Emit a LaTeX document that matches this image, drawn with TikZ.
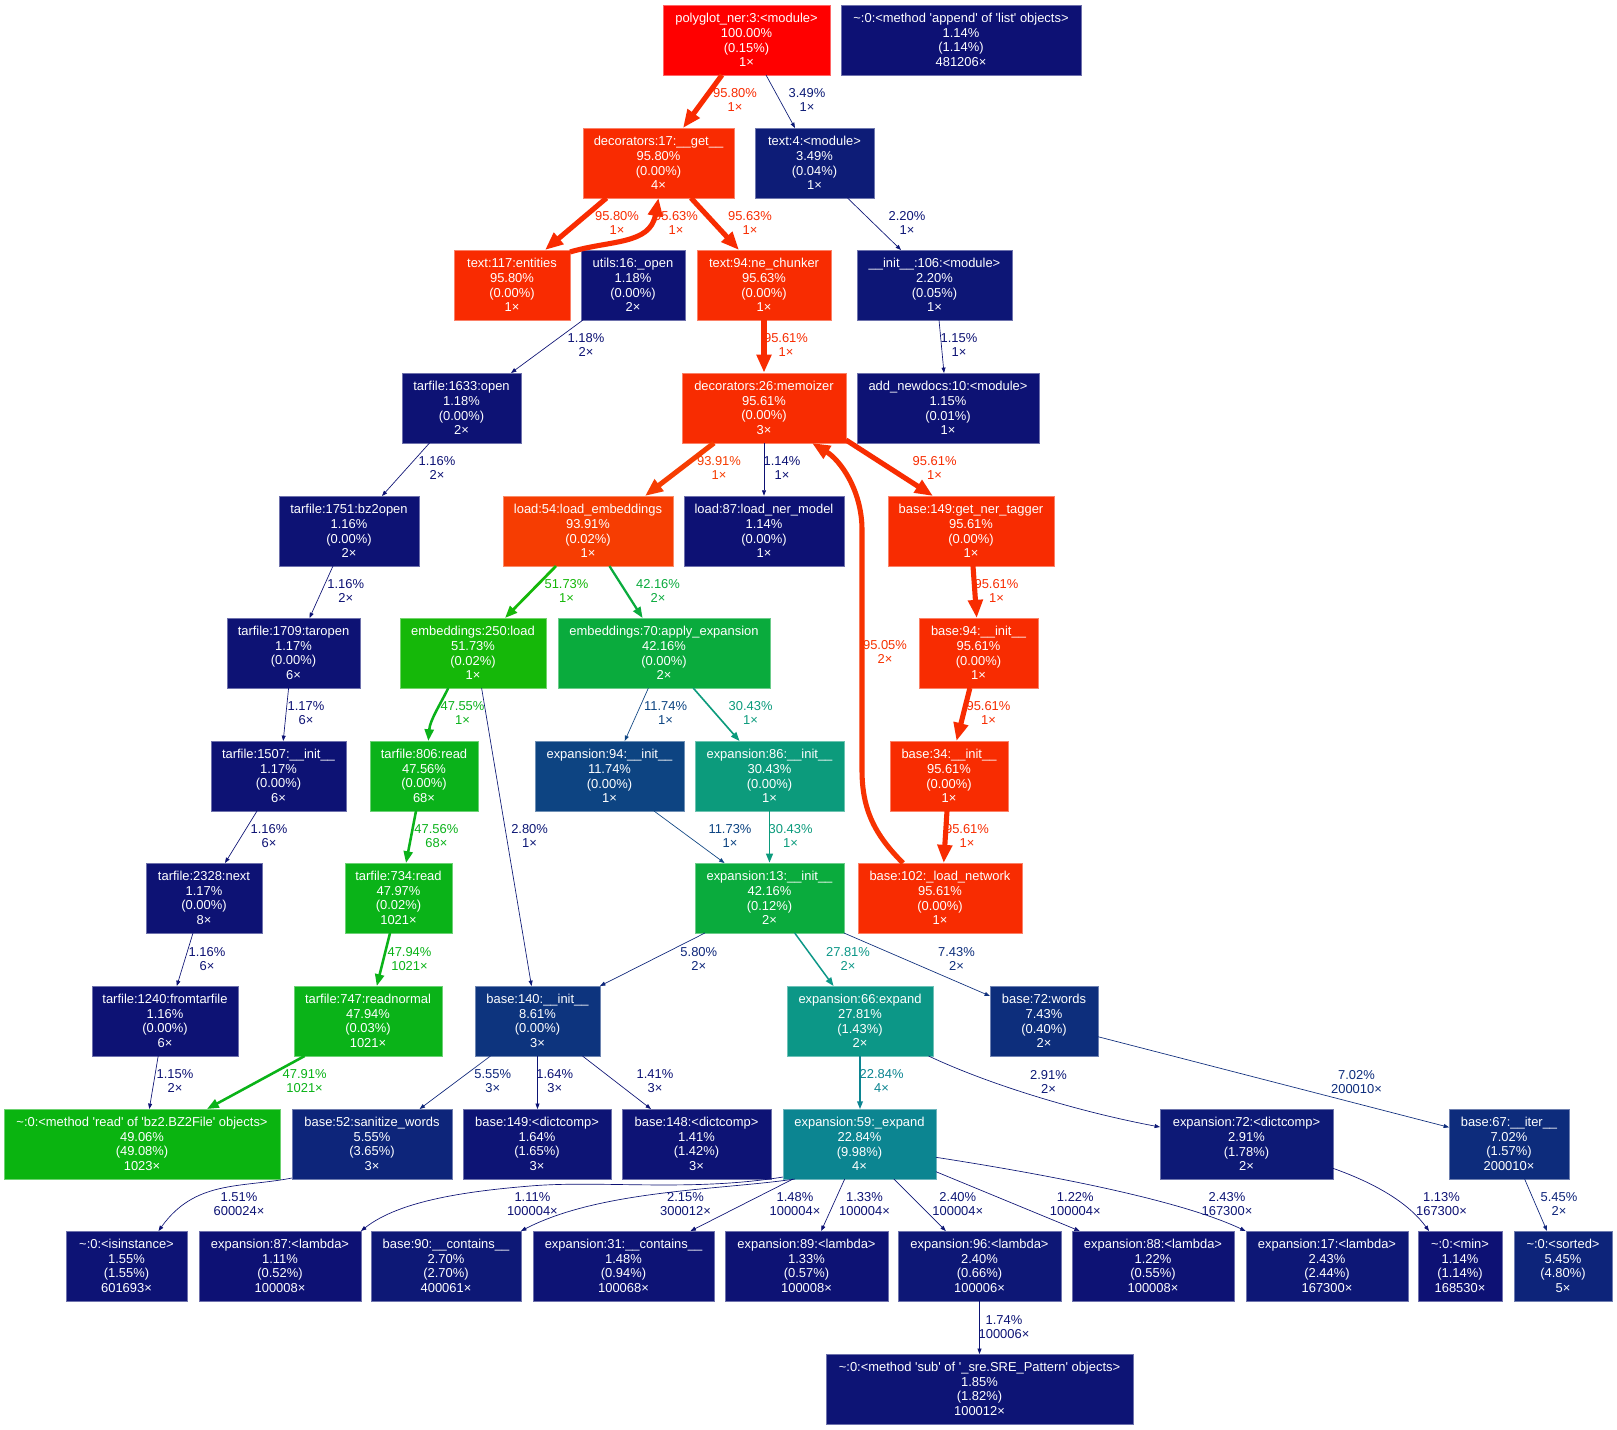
\documentclass[tikz,border=0pt]{standalone}
\usepackage{fontspec}
\usetikzlibrary{arrows.meta,calc}
\newfontfamily\gvfont{Liberation Sans}
\newcommand\labfont{\gvfont\fontsize{9.7}{11}\selectfont}

% temperature colour map: weight 0 -> dark blue, weight 1 -> red (HSL interpolation)
\newcommand\hueexpr[1]{((#1)<1/6 ? \cMa+(\cMb-\cMa)*(#1)*6 : ((#1)<0.5 ? \cMb : ((#1)<2/3 ? \cMa+(\cMb-\cMa)*(2/3-(#1))*6 : \cMa)))}
\newcommand\mkcol[2]{%
  \pgfmathsetmacro\cH{2/3*(1-#2)}%
  \pgfmathsetmacro\cS{0.8+0.2*#2}%
  \pgfmathsetmacro\cL{0.25+0.25*#2}%
  \pgfmathsetmacro\cMb{\cL*(\cS+1)}%
  \pgfmathsetmacro\cMa{2*\cL-\cMb}%
  \pgfmathsetmacro\cHr{\cH+1/3}%
  \pgfmathsetmacro\cHb{\cH<1/3 ? \cH+2/3 : \cH-1/3}%
  \pgfmathsetmacro\cR{max(0,min(1,\hueexpr{\cHr}))}%
  \pgfmathsetmacro\cG{max(0,min(1,\hueexpr{\cH}))}%
  \pgfmathsetmacro\cB{max(0,min(1,\hueexpr{\cHb}))}%
  \edef\cTmp{\noexpand\definecolor{#1}{rgb}{\cR,\cG,\cB}}\cTmp}

% edge colour, pen width and arrow size from the call weight
\newcommand\prepedge[1]{%
  \mkcol{ec}{#1}%
  \pgfmathsetmacro\epw{max(0.5,4*#1)}%
  \pgfmathsetmacro\eal{5*sqrt(\epw)+\epw}%
  \pgfmathsetmacro\eaw{3.5*sqrt(\epw)+\epw}}

% function node: name, centre x, centre y, width, weight, text
\newcommand\fnode[6]{%
  \mkcol{col#1}{#5}%
  \pgfmathsetmacro\nodew{#4*0.75}%
  \node[fn=col#1, minimum width=\nodew pt] (#1) at (#2,#3) {#6};}

\tikzset{
  fn/.style={rectangle, inner sep=0pt, minimum height=52.5pt, fill=#1,
    draw=#1!60!white, line width=0.5pt, text=white, font=\labfont, align=center},
  cg/.style={draw=ec, line width=\epw pt, line join=round,
    -{Triangle[length=\eal pt, width=\eaw pt]}},
  elab/.style={text=ec, font=\labfont, align=center, inner sep=0pt}
}

\begin{document}
\begin{tikzpicture}[x=0.75pt, y=-0.75pt]
\fill[white] (0,0) rectangle (1617,1429);
\useasboundingbox (0,0) rectangle (1617,1429);

% ---------- functions ----------
\fnode{poly}{746.5}{40}{167}{1.0}{polyglot\_ner:3:<module>\\100.00\%\\(0.15\%)\\1×}
\fnode{app}{961}{40}{240}{0.0114}{\textasciitilde:0:<method 'append' of 'list' objects>\\1.14\%\\(1.14\%)\\481206×}
\fnode{dec17}{658.5}{163}{151}{0.958}{decorators:17:\_\_get\_\_\\95.80\%\\(0.00\%)\\4×}
\fnode{txt4}{814.5}{163}{119}{0.0349}{text:4:<module>\\3.49\%\\(0.04\%)\\1×}
\fnode{txt117}{512}{285}{116}{0.958}{text:117:entities\\95.80\%\\(0.00\%)\\1×}
\fnode{utl16}{633}{285}{104}{0.0118}{utils:16:\_open\\1.18\%\\(0.00\%)\\2×}
\fnode{txt94}{764}{285}{134}{0.9563}{text:94:ne\_chunker\\95.63\%\\(0.00\%)\\1×}
\fnode{ini106}{934.5}{285}{155}{0.022}{\_\_init\_\_:106:<module>\\2.20\%\\(0.05\%)\\1×}
\fnode{tf1633}{461.5}{408}{119}{0.0118}{tarfile:1633:open\\1.18\%\\(0.00\%)\\2×}
\fnode{memo}{764}{408}{164}{0.9561}{decorators:26:memoizer\\95.61\%\\(0.00\%)\\3×}
\fnode{addnd}{948}{408}{182}{0.0115}{add\_newdocs:10:<module>\\1.15\%\\(0.01\%)\\1×}
\fnode{tf1751}{349}{531}{140}{0.0116}{tarfile:1751:bz2open\\1.16\%\\(0.00\%)\\2×}
\fnode{ld54}{588}{531}{170}{0.9391}{load:54:load\_embeddings\\93.91\%\\(0.02\%)\\1×}
\fnode{ld87}{764}{531}{160}{0.0114}{load:87:load\_ner\_model\\1.14\%\\(0.00\%)\\1×}
\fnode{b149g}{971}{531}{166}{0.9561}{base:149:get\_ner\_tagger\\95.61\%\\(0.00\%)\\1×}
\fnode{tf1709}{293.5}{653}{133}{0.0117}{tarfile:1709:taropen\\1.17\%\\(0.00\%)\\6×}
\fnode{emb250}{473}{653}{146}{0.5173}{embeddings:250:load\\51.73\%\\(0.02\%)\\1×}
\fnode{emb70}{664}{653}{212}{0.4216}{embeddings:70:apply\_expansion\\42.16\%\\(0.00\%)\\2×}
\fnode{b94}{978.5}{653}{119}{0.9561}{base:94:\_\_init\_\_\\95.61\%\\(0.00\%)\\1×}
\fnode{tf1507}{278.5}{776}{135}{0.0117}{tarfile:1507:\_\_init\_\_\\1.17\%\\(0.00\%)\\6×}
\fnode{tf806}{424}{776}{108}{0.4756}{tarfile:806:read\\47.56\%\\(0.00\%)\\68×}
\fnode{ex94}{609.5}{776}{149}{0.1174}{expansion:94:\_\_init\_\_\\11.74\%\\(0.00\%)\\1×}
\fnode{ex86}{769.5}{776}{149}{0.3043}{expansion:86:\_\_init\_\_\\30.43\%\\(0.00\%)\\1×}
\fnode{b34}{949}{776}{118}{0.9561}{base:34:\_\_init\_\_\\95.61\%\\(0.00\%)\\1×}
\fnode{tf2328}{204}{898}{116}{0.0117}{tarfile:2328:next\\1.17\%\\(0.00\%)\\8×}
\fnode{tf734}{398.5}{898}{107}{0.4797}{tarfile:734:read\\47.97\%\\(0.02\%)\\1021×}
\fnode{ex13}{769.5}{898}{149}{0.4216}{expansion:13:\_\_init\_\_\\42.16\%\\(0.12\%)\\2×}
\fnode{b102}{940}{898}{164}{0.9561}{base:102:\_load\_network\\95.61\%\\(0.00\%)\\1×}
\fnode{tf1240}{165}{1021}{146}{0.0116}{tarfile:1240:fromtarfile\\1.16\%\\(0.00\%)\\6×}
\fnode{tf747}{368}{1021}{148}{0.4794}{tarfile:747:readnormal\\47.94\%\\(0.03\%)\\1021×}
\fnode{b140}{537.5}{1021}{125}{0.0861}{base:140:\_\_init\_\_\\8.61\%\\(0.00\%)\\3×}
\fnode{ex66}{860}{1021}{146}{0.2781}{expansion:66:expand\\27.81\%\\(1.43\%)\\2×}
\fnode{b72}{1044}{1021}{108}{0.0743}{base:72:words\\7.43\%\\(0.40\%)\\2×}
\fnode{bz2}{142}{1144}{276}{0.4906}{\textasciitilde:0:<method 'read' of 'bz2.BZ2File' objects>\\49.06\%\\(49.08\%)\\1023×}
\fnode{san}{372}{1144}{160}{0.0555}{base:52:sanitize\_words\\5.55\%\\(3.65\%)\\3×}
\fnode{b149d}{537}{1144}{148}{0.0164}{base:149:<dictcomp>\\1.64\%\\(1.65\%)\\3×}
\fnode{b148}{696.5}{1144}{149}{0.0141}{base:148:<dictcomp>\\1.41\%\\(1.42\%)\\3×}
\fnode{ex59}{859.5}{1144}{153}{0.2284}{expansion:59:\_expand\\22.84\%\\(9.98\%)\\4×}
\fnode{ex72}{1246.5}{1144}{173}{0.0291}{expansion:72:<dictcomp>\\2.91\%\\(1.78\%)\\2×}
\fnode{b67}{1509}{1144}{120}{0.0702}{base:67:\_\_iter\_\_\\7.02\%\\(1.57\%)\\200010×}
\fnode{isin}{126.5}{1266}{121}{0.0155}{\textasciitilde:0:<isinstance>\\1.55\%\\(1.55\%)\\601693×}
\fnode{ex87}{280}{1266}{162}{0.0111}{expansion:87:<lambda>\\1.11\%\\(0.52\%)\\100008×}
\fnode{b90}{446}{1266}{150}{0.0270}{base:90:\_\_contains\_\_\\2.70\%\\(2.70\%)\\400061×}
\fnode{ex31}{623.5}{1266}{181}{0.0148}{expansion:31:\_\_contains\_\_\\1.48\%\\(0.94\%)\\100068×}
\fnode{ex89}{806.5}{1266}{163}{0.0133}{expansion:89:<lambda>\\1.33\%\\(0.57\%)\\100008×}
\fnode{ex96}{979.5}{1266}{163}{0.0240}{expansion:96:<lambda>\\2.40\%\\(0.66\%)\\100006×}
\fnode{ex88}{1153}{1266}{162}{0.0122}{expansion:88:<lambda>\\1.22\%\\(0.55\%)\\100008×}
\fnode{ex17}{1327}{1266}{162}{0.0243}{expansion:17:<lambda>\\2.43\%\\(2.44\%)\\167300×}
\fnode{min}{1460}{1266}{84}{0.0114}{\textasciitilde:0:<min>\\1.14\%\\(1.14\%)\\168530×}
\fnode{sorted}{1563}{1266}{98}{0.0545}{\textasciitilde:0:<sorted>\\5.45\%\\(4.80\%)\\5×}
\fnode{sub}{979.5}{1389}{307}{0.0185}{\textasciitilde:0:<method 'sub' of '\_sre.SRE\_Pattern' objects>\\1.85\%\\(1.82\%)\\100012×}

% ---------- calls ----------
\prepedge{0.958}
\draw[cg] ($(poly)+(-24.5,35)$) -- ($(dec17)+(24.5,-35)$);
\node[elab] (l1) at (735,100) {95.80\%\\1×};
\prepedge{0.0349}
\draw[cg] ($(poly)+(19.5,35)$) -- ($(txt4)+(-19.5,-35)$);
\node[elab] (l2) at (807,100) {3.49\%\\1×};
\prepedge{0.958}
\draw[cg] ($(dec17)+(-52,35)$) -- ($(txt117)+(33,-35)$);
\node[elab] (l3) at (617,223) {95.80\%\\1×};
\prepedge{0.9563}
\draw[cg] ($(txt117)+(58,-33)$) .. controls (610,240) and (650,245) .. ($(dec17)+(0,35)$);
\node[elab] (l4) at (676,223) {95.63\%\\1×};
\prepedge{0.9563}
\draw[cg] ($(dec17)+(32.5,35)$) -- ($(txt94)+(-25,-35)$);
\node[elab] (l5) at (750,223) {95.63\%\\1×};
\prepedge{0.022}
\draw[cg] ($(txt4)+(33,35)$) -- ($(ini106)+(-33.5,-35)$);
\node[elab] (l6) at (907,223) {2.20\%\\1×};
\prepedge{0.9561}
\draw[cg] (txt94.south) -- (memo.north);
\node[elab] (l7) at (786,345) {95.61\%\\1×};
\prepedge{0.0118}
\draw[cg] ($(utl16)+(-50,35)$) -- ($(tf1633)+(49.5,-35)$);
\node[elab] (l8) at (586,345) {1.18\%\\2×};
\prepedge{0.0115}
\draw[cg] ($(ini106)+(4.5,35)$) -- ($(addnd)+(-4,-35)$);
\node[elab] (l9) at (959,345) {1.15\%\\1×};
\prepedge{0.0116}
\draw[cg] ($(tf1633)+(-32,35)$) -- ($(tf1751)+(33,-35)$);
\node[elab] (l10) at (437,468) {1.16\%\\2×};
\prepedge{0.9391}
\draw[cg] ($(memo)+(-50,35)$) -- ($(ld54)+(57,-35)$);
\node[elab] (l11) at (719,468) {93.91\%\\1×};
\prepedge{0.0114}
\draw[cg] (memo.south) -- (ld87.north);
\node[elab] (l12) at (782,468) {1.14\%\\1×};
\prepedge{0.9561}
\draw[cg] ($(memo)+(82,32)$) -- ($(b149g)+(-38,-35)$);
\node[elab] (l13) at (934.6,468) {95.61\%\\1×};
\prepedge{0.9505}
\draw[cg] ($(b102)+(-37,-35)$) .. controls (875,835) and (862,810) .. (862,770)
  -- (862,530) .. controls (862,490) and (840,460) .. ($(memo)+(48,35)$);
\node[elab] (l14) at (885,652) {95.05\%\\2×};
\prepedge{0.5173}
\draw[cg] ($(ld54)+(-32,35)$) -- ($(emb250)+(32,-35)$);
\node[elab] (l15) at (566.5,591) {51.73\%\\1×};
\prepedge{0.4216}
\draw[cg] ($(ld54)+(21.4,35)$) -- ($(emb70)+(-21.4,-35)$);
\node[elab] (l16) at (658,591) {42.16\%\\2×};
\prepedge{0.9561}
\draw[cg] ($(b149g)+(2,35)$) -- ($(b94)+(-1.8,-35)$);
\node[elab] (l17) at (996.5,591) {95.61\%\\1×};
\prepedge{0.0116}
\draw[cg] ($(tf1751)+(-16,35)$) -- ($(tf1709)+(16,-35)$);
\node[elab] (l18) at (345.7,591) {1.16\%\\2×};
\prepedge{0.4755}
\draw[cg] ($(emb250)+(-24.7,35)$) .. controls (440,705) and (430,720) .. ($(tf806)+(4.3,-35)$);
\node[elab] (l19) at (462.5,713) {47.55\%\\1×};
\prepedge{0.028}
\draw[cg] ($(emb250)+(8.6,35)$) -- ($(b140)+(-6,-35)$);
\node[elab] (l20) at (529.6,836) {2.80\%\\1×};
\prepedge{0.1174}
\draw[cg] ($(emb70)+(-15.6,35)$) -- ($(ex94)+(15.2,-35)$);
\node[elab] (l21) at (665.6,713) {11.74\%\\1×};
\prepedge{0.3043}
\draw[cg] ($(emb70)+(29.2,35)$) -- ($(ex86)+(-30,-35)$);
\node[elab] (l22) at (750.6,713) {30.43\%\\1×};
\prepedge{0.9561}
\draw[cg] ($(b94)+(-8.6,35)$) -- ($(b34)+(7.5,-35)$);
\node[elab] (l23) at (988.5,713) {95.61\%\\1×};
\prepedge{0.0117}
\draw[cg] ($(tf1709)+(-4.9,35)$) -- ($(tf1507)+(4.7,-35)$);
\node[elab] (l24) at (306,713) {1.17\%\\6×};
\prepedge{0.0116}
\draw[cg] ($(tf1507)+(-21.5,35)$) -- ($(tf2328)+(21,-35)$);
\node[elab] (l25) at (269,836) {1.16\%\\6×};
\prepedge{0.4756}
\draw[cg] ($(tf806)+(-8,35)$) -- ($(tf734)+(7.5,-35)$);
\node[elab] (l26) at (436.4,836) {47.56\%\\68×};
\prepedge{0.1173}
\draw[cg] ($(ex94)+(44.5,35)$) -- ($(ex13)+(-45,-35)$);
\node[elab] (l27) at (730,836) {11.73\%\\1×};
\prepedge{0.3043}
\draw[cg] (ex86.south) -- (ex13.north);
\node[elab] (l28) at (790.6,836) {30.43\%\\1×};
\prepedge{0.9561}
\draw[cg] ($(b34)+(-2,35)$) -- ($(b102)+(3.7,-35)$);
\node[elab] (l29) at (967,836) {95.61\%\\1×};
\prepedge{0.0116}
\draw[cg] ($(tf2328)+(-11,35)$) -- ($(tf1240)+(11.8,-35)$);
\node[elab] (l30) at (207,959) {1.16\%\\6×};
\prepedge{0.4794}
\draw[cg] ($(tf734)+(-8.5,35)$) -- ($(tf747)+(8.8,-35)$);
\node[elab] (l31) at (409.5,959) {47.94\%\\1021×};
\prepedge{0.058}
\draw[cg] ($(ex13)+(-64.6,35)$) -- ($(b140)+(62.5,-35)$);
\node[elab] (l32) at (698.8,959) {5.80\%\\2×};
\prepedge{0.2781}
\draw[cg] ($(ex13)+(25.2,35)$) -- ($(ex66)+(-26.5,-35)$);
\node[elab] (l33) at (848,959) {27.81\%\\2×};
\prepedge{0.0743}
\draw[cg] ($(ex13)+(74.5,35)$) -- ($(b72)+(-54,-25)$);
\node[elab] (l34) at (956.5,959) {7.43\%\\2×};
\prepedge{0.0115}
\draw[cg] ($(tf1240)+(-6.8,35)$) -- ($(bz2)+(7.3,-35)$);
\node[elab] (l35) at (175,1081) {1.15\%\\2×};
\prepedge{0.4791}
\draw[cg] ($(tf747)+(-63.4,35)$) -- ($(bz2)+(65,-35)$);
\node[elab] (l36) at (304.6,1081) {47.91\%\\1021×};
\prepedge{0.0555}
\draw[cg] ($(b140)+(-47,35)$) -- ($(san)+(47.6,-35)$);
\node[elab] (l37) at (492.7,1081) {5.55\%\\3×};
\prepedge{0.0164}
\draw[cg] ($(b140)+(0,35)$) -- ($(b149d)+(0.5,-35)$);
\node[elab] (l38) at (554.7,1081) {1.64\%\\3×};
\prepedge{0.0141}
\draw[cg] ($(b140)+(45,35)$) -- ($(b148)+(-45.5,-35)$);
\node[elab] (l39) at (655,1081) {1.41\%\\3×};
\prepedge{0.2284}
\draw[cg] ($(ex66)+(0,35)$) -- ($(ex59)+(0.5,-35)$);
\node[elab] (l40) at (881.6,1081) {22.84\%\\4×};
\prepedge{0.0291}
\draw[cg] ($(ex66)+(68.6,35)$) .. controls (990,1085) and (1080,1112) .. ($(ex72)+(-86.5,-17)$);
\node[elab] (l41) at (1048.5,1082) {2.91\%\\2×};
\prepedge{0.0702}
\draw[cg] ($(b72)+(54,15.7)$) -- ($(b67)+(-60,-16.7)$);
\node[elab] (l42) at (1356.5,1082) {7.02\%\\200010×};
\prepedge{0.0151}
\draw[cg] ($(san)+(-80,34)$) .. controls (240,1188) and (195,1180) .. ($(isin)+(32,-35)$);
\node[elab] (l43) at (239,1204) {1.51\%\\600024×};
\prepedge{0.0111}
\draw[cg] ($(ex59)+(-76.5,33)$) .. controls (690,1192) and (600,1180) .. (530,1186)
  .. controls (470,1191) and (400,1200) .. ($(ex87)+(81,-35)$);
\node[elab] (l44) at (532.4,1204) {1.11\%\\100004×};
\prepedge{0.0215}
\draw[cg] ($(ex59)+(-64.5,35)$) .. controls (720,1190) and (600,1190) .. ($(b90)+(75,-35)$);
\node[elab] (l45) at (685.5,1204) {2.15\%\\300012×};
\prepedge{0.0148}
\draw[cg] ($(ex59)+(-66.5,35)$) -- ($(ex31)+(67,-35)$);
\node[elab] (l46) at (795,1204) {1.48\%\\100004×};
\prepedge{0.0133}
\draw[cg] ($(ex59)+(-14.8,35)$) -- ($(ex89)+(14.7,-35)$);
\node[elab] (l47) at (864.5,1204) {1.33\%\\100004×};
\prepedge{0.024}
\draw[cg] ($(ex59)+(34.4,35)$) -- ($(ex96)+(-33.7,-35)$);
\node[elab] (l48) at (957.8,1204) {2.40\%\\100004×};
\prepedge{0.0122}
\draw[cg] ($(ex59)+(76.5,27.7)$) -- ($(ex88)+(-73.3,-35)$);
\node[elab] (l49) at (1075.3,1204) {1.22\%\\100004×};
\prepedge{0.0243}
\draw[cg] ($(ex59)+(76.5,13.3)$) .. controls (1050,1175) and (1180,1200) .. ($(ex17)+(-81.4,-35)$);
\node[elab] (l50) at (1227,1204) {2.43\%\\167300×};
\prepedge{0.0113}
\draw[cg] ($(ex72)+(86.5,24.3)$) .. controls (1380,1185) and (1410,1205) .. ($(min)+(-31,-35)$);
\node[elab] (l51) at (1441.5,1204) {1.13\%\\167300×};
\prepedge{0.0545}
\draw[cg] ($(b67)+(15.6,35)$) -- ($(sorted)+(-16,-35)$);
\node[elab] (l52) at (1559,1204) {5.45\%\\2×};
\prepedge{0.0174}
\draw[cg] ($(ex96)+(0,35)$) -- ($(sub)+(0,-35)$);
\node[elab] (l53) at (1004,1327) {1.74\%\\100006×};
\end{tikzpicture}
\end{document}
